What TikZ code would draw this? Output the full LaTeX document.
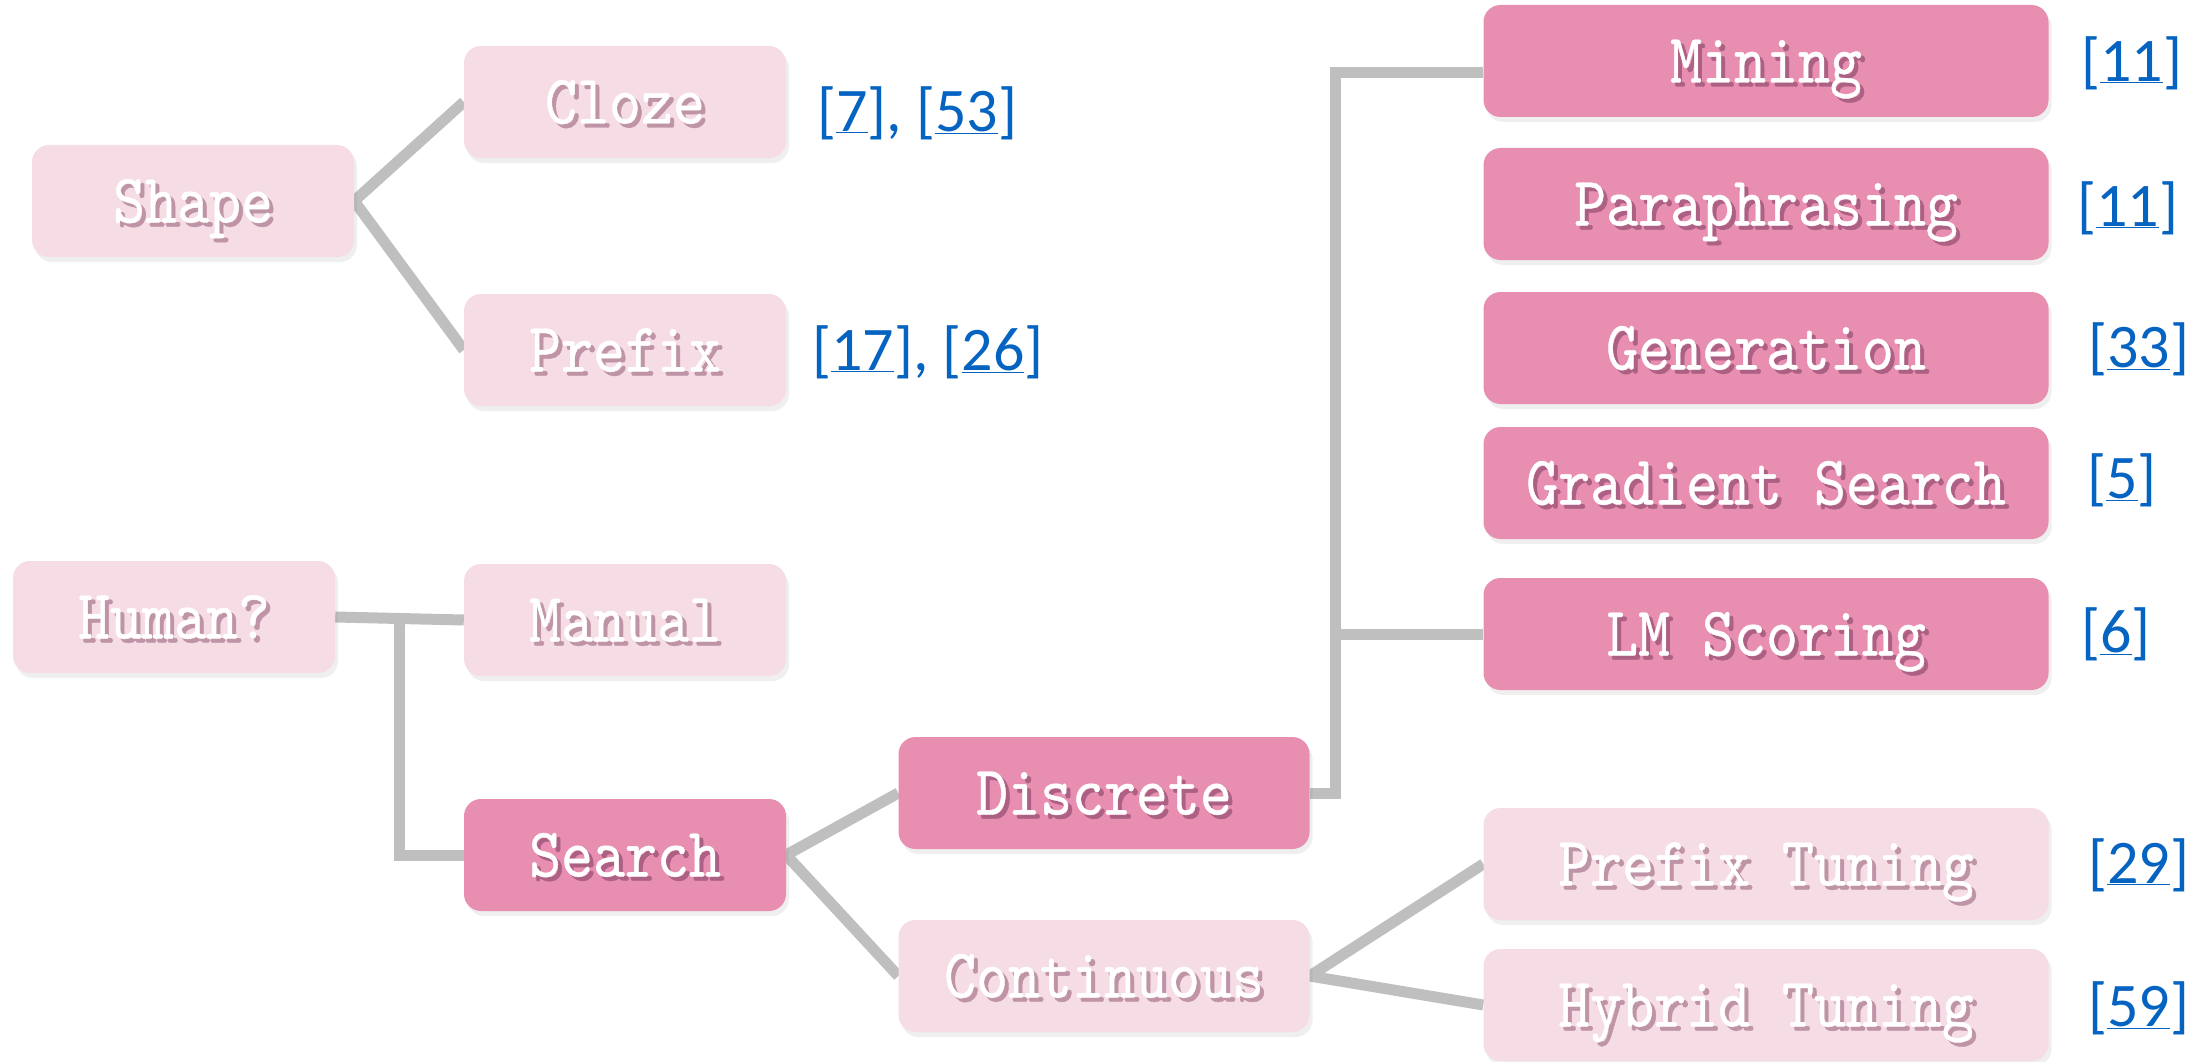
\documentclass[tikz,border=0pt]{standalone}
\usepackage{fontspec}
\newfontfamily\reffont{Carlito}
% condensed, slightly heavier typewriter face for the box labels
\newfontfamily\boxfont[FakeStretch=0.87, FakeBold=0.6]{lmmono10-regular.otf}
\usetikzlibrary{shadows,calc,backgrounds}

\definecolor{lightbox}{RGB}{245,220,229}
\definecolor{darkbox}{RGB}{232,142,176}
\definecolor{linkgray}{RGB}{191,191,191}
\definecolor{refblue}{RGB}{5,99,193}
\definecolor{lightshade}{RGB}{190,148,166}
\definecolor{darkshade}{RGB}{172,96,132}

% white label with an offset shadow behind it
\newcommand{\shadowlabel}[2]{%
  \makebox[0pt][l]{\hspace{4pt}\raisebox{-4pt}{\textcolor{#1}{#2}}}%
  \textcolor{white}{#2}}
\newcommand{\lightlabel}[1]{\shadowlabel{lightshade}{#1}}
\newcommand{\darklabel}[1]{\shadowlabel{darkshade}{#1}}

\tikzset{
  box/.style={rectangle, rounded corners=17pt, inner sep=0pt,
    minimum height=112pt, text height=43pt, text depth=0pt,
    font=\boxfont\fontsize{70}{70}\selectfont,
    drop shadow={opacity=0.13, shadow xshift=3pt, shadow yshift=-5pt}},
  lightnode/.style={box, fill=lightbox},
  darknode/.style={box, fill=darkbox},
  narrowbox/.style={minimum width=322pt},
  midbox/.style={minimum width=411pt},
  widebox/.style={minimum width=565pt},
  ref/.style={anchor=west, inner sep=0pt, text=refblue,
    font=\reffont\fontsize{62}{62}\selectfont},
  link/.style={draw=linkgray, line width=11pt},
}

\begin{document}
\begin{tikzpicture}[x=1pt, y=-1pt]
\useasboundingbox (0,0) rectangle (2208,1062);

% first level
\node[lightnode, narrowbox] (shape) at (193,201) {\lightlabel{Shape}};
\node[lightnode, narrowbox] (human) at (174,617) {\lightlabel{Human?}};

% second level
\node[lightnode, narrowbox] (cloze)  at (625,102) {\lightlabel{Cloze}};
\node[lightnode, narrowbox] (prefix) at (625,350) {\lightlabel{Prefix}};
\node[lightnode, narrowbox] (manual) at (625,620) {\lightlabel{Manual}};
\node[darknode, narrowbox]  (search) at (625,855) {\darklabel{Search}};

% third level
\node[darknode, midbox]  (discrete)   at (1104,793) {\darklabel{Discrete}};
\node[lightnode, midbox] (continuous) at (1104,976) {\lightlabel{Continuous}};

% leaves
\node[darknode, widebox] (mining) at (1766,61)  {\darklabel{Mining}};
\node[darknode, widebox] (para)   at (1766,204) {\darklabel{Paraphrasing}};
\node[darknode, widebox] (gen)    at (1766,348) {\darklabel{Generation}};
\node[darknode, widebox] (grad)   at (1766,483) {\darklabel{Gradient Search}};
\node[darknode, widebox] (lm)     at (1766,634) {\darklabel{LM Scoring}};
\node[lightnode, widebox] (ptune) at (1766,864) {\lightlabel{Prefix Tuning}};
\node[lightnode, widebox] (htune) at (1766,1005) {\lightlabel{Hybrid Tuning}};

% citations
\node[ref] (rcloze)  at (817,113)  {[\underline{7}], [\underline{53}]};
\node[ref] (rprefix) at (812,352)  {[\underline{17}], [\underline{26}]};
\node[ref] (rmining) at (2081,63)  {[\underline{11}]};
\node[ref] (rpara)   at (2077,208) {[\underline{11}]};
\node[ref] (rgen)    at (2088,349) {[\underline{33}]};
\node[ref] (rgrad)   at (2087,480) {[\underline{5}]};
\node[ref] (rlm)     at (2081,634) {[\underline{6}]};
\node[ref] (rptune)  at (2088,865) {[\underline{29}]};
\node[ref] (rhtune)  at (2088,1008) {[\underline{59}]};

% connectors
\coordinate (hj) at ($(human.east)!0.5!(manual.west)$);
\coordinate (dj) at ($(discrete.east)+(26,0)$);
\coordinate (mj) at ($(mining.west)+(0,12)$);
\begin{scope}[on background layer]
  \draw[link] (cloze.west) -- (shape.east) -- (prefix.west);
  \draw[link] (human.east) -- (manual.west);
  \draw[link, line cap=rect] (hj) |- (search.west);
  \draw[link] (discrete.west) -- (search.east) -- (continuous.west);
  \draw[link] (discrete.east) -- (dj) |- (mj);
  \draw[link] (dj |- lm.west) -- (lm.west);
  \draw[link] (ptune.west) -- (continuous.east) -- (htune.west);
\end{scope}
\end{tikzpicture}
\end{document}
